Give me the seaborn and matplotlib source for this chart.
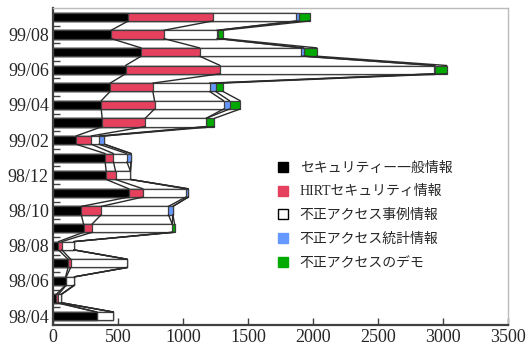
import numpy as np
import pandas as pd
import matplotlib
matplotlib.use("Agg")
import matplotlib.pyplot as plt
import seaborn as sns
from matplotlib.lines import Line2D
from matplotlib.ticker import FixedLocator

sns.set_theme(style="white")
plt.rcParams['font.family'] = ['Liberation Serif', 'Noto Sans CJK JP']

# データ（98/04 → 99/09）
months = ['98/04', '98/05', '98/06', '98/07', '98/08', '98/09', '98/10', '98/11', '98/12',
          '99/01', '99/02', '99/03', '99/04', '99/05', '99/06', '99/07', '99/08', '99/09']
general = [337, 25, 97, 116, 42, 235, 217, 583, 409, 401, 178, 378, 371, 440, 558, 678, 447, 580]
hirt = [0, 17, 5, 20, 26, 66, 154, 108, 72, 64, 116, 331, 410, 328, 728, 449, 405, 650]
cases = [128, 21, 63, 434, 93, 616, 517, 330, 115, 103, 59, 469, 531, 436, 1643, 782, 408, 640]
stats = [0, 0, 0, 0, 0, 0, 34, 20, 0, 33, 43, 0, 46, 46, 10, 20, 13, 20]
demo = [0, 0, 0, 0, 0, 18, 0, 0, 0, 0, 0, 64, 82, 56, 90, 100, 33, 87]

names = ['セキュリティー一般情報', 'HIRTセキュリティ情報', '不正アクセス事例情報',
         '不正アクセス統計情報', '不正アクセスのデモ']
colors = ['#000000', '#E5405E', '#FFFFFF', '#6699FF', '#00AA00']

df = pd.DataFrame(dict(zip(names, [general, hirt, cases, stats, demo])), index=months)
cum = df.cumsum(axis=1)
cum['月'] = months
order = months[::-1]

fig, ax = plt.subplots(figsize=(5.27, 3.47), dpi=100)
fig.subplots_adjust(left=53/527, right=508/527, top=1-8/347, bottom=1-325/347)

bar_h = 0.47
# 積み上げ：合計から順に重ねて描く
for name, color in reversed(list(zip(names, colors))):
    sns.barplot(data=cum, x=name, y='月', order=order, color=color, saturation=1,
                edgecolor='#404040', linewidth=0.9, width=bar_h, ax=ax)

# 区分線
pos = {m: i for i, m in enumerate(order)}
for name in names:
    for a, b in zip(months[:-1], months[1:]):
        ax.plot([cum.loc[a, name], cum.loc[b, name]],
                [pos[a] - bar_h / 2, pos[b] + bar_h / 2],
                color='#2a2a2a', lw=1.0, zorder=1)

ax.set_xlim(0, 3500)
ax.set_ylim(len(months) - 0.5, -0.5)
ax.set_xticks(range(0, 3501, 500))
ax.set_yticks([pos[m] for m in months[0::2]])
ax.set_yticklabels(months[0::2])
ax.yaxis.set_minor_locator(FixedLocator(np.arange(0.5, len(months) - 1, 1)))
ax.tick_params(axis='y', which='major', length=0, labelsize=13, pad=3)
ax.tick_params(axis='y', which='minor', direction='in', length=5, left=True, width=1, color='#404040')
ax.tick_params(axis='x', direction='in', length=5, bottom=True, labelsize=13, width=1,
               color='#404040', pad=3)
ax.set_xlabel('')
ax.set_ylabel('')

for s in ['left', 'bottom']:
    ax.spines[s].set_color('#404040')
    ax.spines[s].set_linewidth(1.6)
for s in ['top', 'right']:
    ax.spines[s].set_color('#BBBBBB')
    ax.spines[s].set_linewidth(1)

handles = [Line2D([], [], marker='s', linestyle='none', markersize=7, markerfacecolor=c,
                  markeredgecolor=('#000000' if c == '#FFFFFF' else c), markeredgewidth=1)
           for c in colors]
ax.legend(handles, names, loc='upper left', bbox_to_anchor=(0.46, 0.555), frameon=False,
          fontsize=10, labelspacing=0.78, handletextpad=0.6, handlelength=1.2)

fig.savefig('out.png', dpi=100)
